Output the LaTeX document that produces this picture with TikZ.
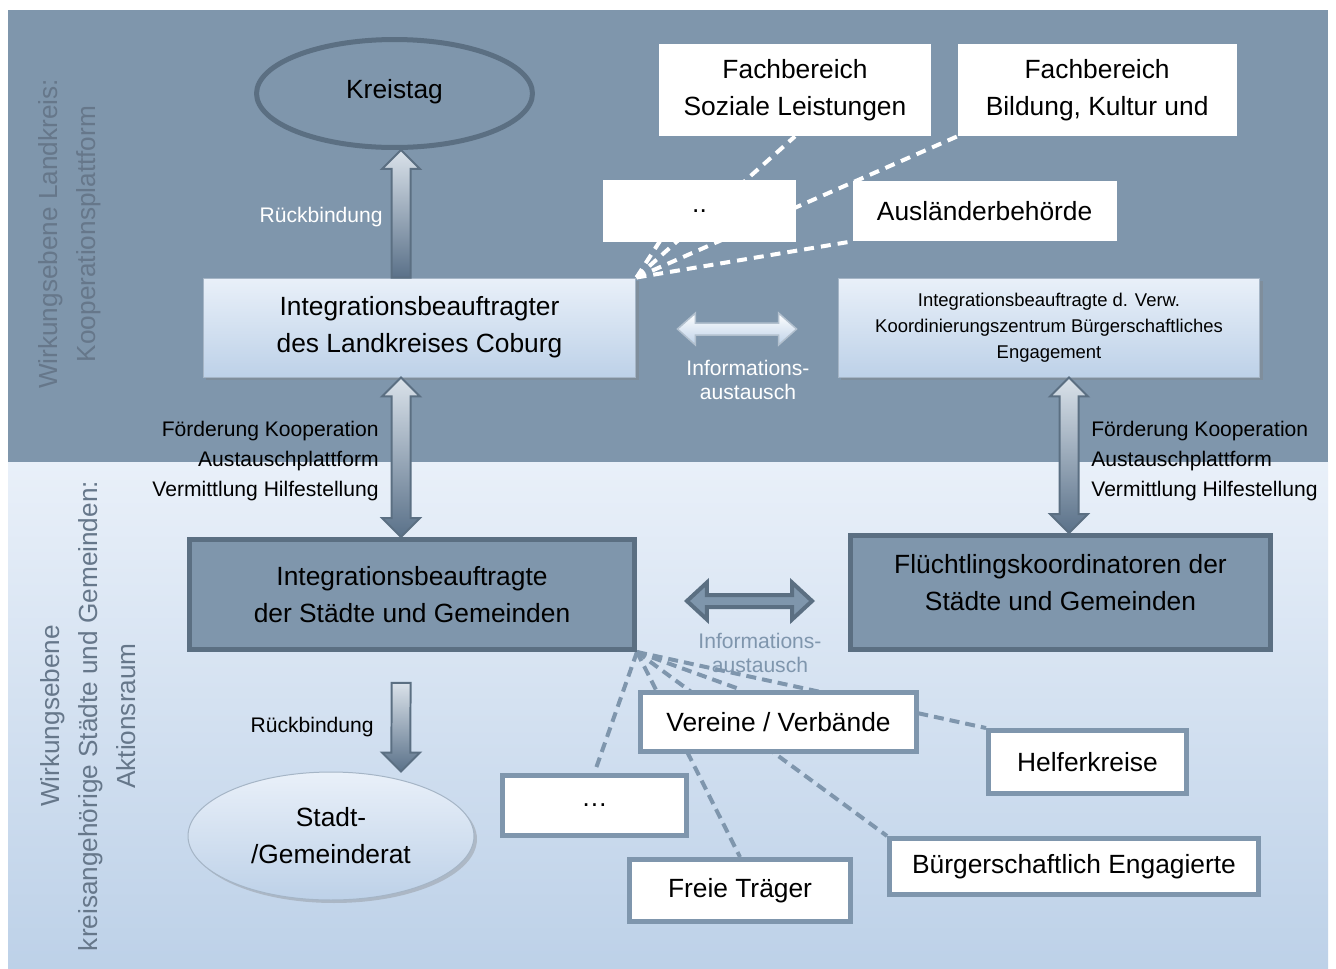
\documentclass[tikz,border=0pt]{standalone}
\usepackage{fontspec}
\setmainfont{Liberation Sans}
\usetikzlibrary{positioning,calc,shapes.geometric,shadows}

\definecolor{bandblue}{HTML}{7F96AC}
\definecolor{darkline}{HTML}{5B6F82}
\definecolor{paleblue}{HTML}{E9F0F9}
\definecolor{softblue}{HTML}{BDD1E8}
\definecolor{sidegray}{HTML}{66778A}
\definecolor{boxline}{HTML}{7F96AD}
\definecolor{arrlight}{HTML}{DAE2EA}
\definecolor{arrdark}{HTML}{5A7189}

\pgfdeclarelayer{bands}
\pgfdeclarelayer{links}
\pgfsetlayers{bands,links,main}

\tikzset{
  bigtext/.style={font=\fontsize{15}{21}\selectfont, align=center},
  lbl/.style={font=\fontsize{12}{17}\selectfont, inner sep=0pt},
  infolbl/.style={font=\fontsize{12}{13.7}\selectfont, align=center, inner sep=0pt},
  sidelbl/.style={font=\fontsize{14.9}{21.6}\selectfont, text=sidegray, align=center, rotate=90},
  topbox/.style={bigtext, rectangle, fill=white, inner sep=0pt},
  lightbox/.style={rectangle, draw=boxline!70, line width=0.02cm, top color=paleblue, bottom color=softblue,
    drop shadow={opacity=0.35, shadow xshift=0.06cm, shadow yshift=-0.06cm}},
  darkbox/.style={bigtext, rectangle, fill=bandblue, draw=darkline, line width=0.1cm},
  whitebox/.style={bigtext, rectangle, fill=white, draw=boxline, line width=0.1cm,
    drop shadow={opacity=0.25, shadow xshift=0.05cm, shadow yshift=-0.05cm}},
  toplink/.style={white, line width=0.08cm, dash pattern=on 0.2cm off 0.14cm},
  botlink/.style={boxline, line width=0.08cm, dash pattern=on 0.2cm off 0.12cm},
  % block arrows: shaft half width, head half width, head length
  sarrow/.style n args={3}{to path={
    let \p1=(\tikztostart), \p2=(\tikztotarget), \n1={atan2(\y2-\y1,\x2-\x1)} in
    ($(\p1)+(\n1+90:#1)$) -- ($(\p2)+(\n1+180:#3)+(\n1+90:#1)$) -- ($(\p2)+(\n1+180:#3)+(\n1+90:#2)$)
    -- (\p2) -- ($(\p2)+(\n1+180:#3)+(\n1-90:#2)$) -- ($(\p2)+(\n1+180:#3)+(\n1-90:#1)$)
    -- ($(\p1)+(\n1-90:#1)$) -- cycle}},
  darrow/.style n args={3}{to path={
    let \p1=(\tikztostart), \p2=(\tikztotarget), \n1={atan2(\y2-\y1,\x2-\x1)} in
    (\p1) -- ($(\p1)+(\n1:#3)+(\n1+90:#2)$) -- ($(\p1)+(\n1:#3)+(\n1+90:#1)$)
    -- ($(\p2)+(\n1+180:#3)+(\n1+90:#1)$) -- ($(\p2)+(\n1+180:#3)+(\n1+90:#2)$)
    -- (\p2) -- ($(\p2)+(\n1+180:#3)+(\n1-90:#2)$) -- ($(\p2)+(\n1+180:#3)+(\n1-90:#1)$)
    -- ($(\p1)+(\n1:#3)+(\n1-90:#1)$) -- ($(\p1)+(\n1:#3)+(\n1-90:#2)$) -- cycle}},
}

\begin{document}
\begin{tikzpicture}[x=0.02cm, y=-0.02cm]

  \useasboundingbox (0,0) rectangle (1336,968);

  % Bands
  \begin{pgfonlayer}{bands}
    \fill[white] (0,0) rectangle (1336,968);
    \fill[bandblue] (8,10) rectangle (1328,462);
    \shade[top color=paleblue, bottom color=softblue] (8,462) rectangle (1328,968);
  \end{pgfonlayer}

  \node[sidelbl] (side1) at (70,234) {Wirkungsebene Landkreis:\\Kooperationsplattform};
  \node[sidelbl] (side2) at (88,716) {Wirkungsebene\\kreisangehörige Städte und Gemeinden:\\Aktionsraum};

  % Landkreis level
  \node[ellipse, bigtext, draw=darkline, line width=0.1cm, fill=bandblue, text depth=0.19cm,
        minimum width=5.52cm, minimum height=2.16cm] (kt) at (394.5,93.5) {Kreistag};
  \node[topbox, minimum width=5.44cm, minimum height=1.84cm] (fb1) at (795,90) {Fachbereich\\Soziale Leistungen};
  \node[topbox, minimum width=5.58cm, minimum height=1.84cm, right=0.52cm of fb1] (fb2) {Fachbereich\\Bildung, Kultur und};
  \node[topbox, minimum width=3.86cm, minimum height=1.24cm] (dots1) at (699.5,211) {..};
  \node[topbox, minimum width=5.28cm, minimum height=1.2cm, right=1.12cm of dots1] (ab) {Ausländerbehörde};
  \node[lightbox, bigtext, minimum width=8.66cm, minimum height=1.98cm] (lk) at (419.5,327.5)
    {Integrationsbeauftragter\\des Landkreises Coburg};
  \node[lightbox, font=\fontsize{10.5}{14.8}\selectfont, align=center, minimum width=8.44cm,
        minimum height=1.98cm] (iv) at (1049,327.5)
    {Integrationsbeauftragte d. Verw.\\Koordinierungszentrum Bürgerschaftliches\\Engagement};

  % Gemeinde level
  \node[darkbox, minimum width=8.9cm, minimum height=2.2cm] (ls) at (412,594.5)
    {Integrationsbeauftragte\\der Städte und Gemeinden};
  \node[darkbox, minimum width=8.4cm, minimum height=2.28cm, text depth=0.4cm] (fk) at (1060.5,592.5)
    {Flüchtlingskoordinatoren der\\Städte und Gemeinden};
  \node[lightbox, ellipse, bigtext, minimum width=5.72cm, minimum height=2.56cm] (sg) at (331,836) {Stadt-\\/Gemeinderat};
  \node[whitebox, minimum width=3.68cm, minimum height=1.2cm] (dots2) at (594.5,805) {…};
  \node[whitebox, minimum width=5.52cm, minimum height=1.18cm] (vv) at (778.5,722) {Vereine / Verbände};
  \node[whitebox, minimum width=3.96cm, minimum height=1.26cm] (hk) at (1087.5,762) {Helferkreise};
  \node[whitebox, minimum width=4.42cm, minimum height=1.24cm] (ft) at (740,890.5) {Freie Träger};
  \node[whitebox, minimum width=7.38cm, minimum height=1.12cm] (be) at (1074,866.5) {Bürgerschaftlich Engagierte};

  % Dashed links
  \begin{pgfonlayer}{links}
    \draw[toplink] (lk.north east) -- (dots1.north);
    \draw[toplink] (lk.north east) -- (fb1.south);
    \draw[toplink] (lk.north east) -- (fb2.south west);
    \draw[toplink] (lk.north east) -- (ab.south west);
    \draw[botlink] (ls.south east) -- (dots2.north);
    \draw[botlink] (ls.south east) -- (ft.north);
    \draw[botlink] (ls.south east) -- ($(vv.north west)!0.37!(vv.north east)$);
    \draw[botlink] (ls.south east) -- (be.north west);
    \draw[botlink] (ls.south east) -- (hk.north west);
  \end{pgfonlayer}

  % Block arrows
  \coordinate (r1s) at ([xshift=-0.37cm]lk.north);
  \coordinate (r1e) at ([xshift=0.13cm]kt.south);
  \shadedraw[sarrow={0.19cm}{0.38cm}{0.38cm}, top color=arrlight, bottom color=arrdark,
             draw=darkline, line width=0.04cm] (r1s) to (r1e);

  \coordinate (d1s) at ([xshift=-0.37cm]lk.south);
  \coordinate (d1e) at ([xshift=-0.22cm]ls.north);
  \shadedraw[darrow={0.19cm}{0.38cm}{0.38cm}, top color=arrlight, bottom color=arrdark,
             draw=darkline, line width=0.04cm] (d1s) to (d1e);

  \coordinate (d2s) at ([xshift=0.4cm]iv.south);
  \coordinate (d2e) at ([xshift=0.17cm]fk.north);
  \shadedraw[darrow={0.19cm}{0.38cm}{0.38cm}, top color=arrlight, bottom color=arrdark,
             draw=darkline, line width=0.04cm] (d2s) to (d2e);

  \coordinate (r2s) at ([xshift=-0.22cm, yshift=-0.62cm]ls.south);
  \coordinate (r2e) at ([xshift=1.4cm]sg.north);
  \shadedraw[sarrow={0.19cm}{0.38cm}{0.38cm}, top color=arrlight, bottom color=arrdark,
             draw=darkline, line width=0.04cm] (r2s) to (r2e);

  \coordinate (h1s) at ([xshift=0.82cm, yshift=-0.03cm]lk.east);
  \coordinate (h1e) at ([xshift=-0.82cm, yshift=-0.03cm]iv.west);
  \shadedraw[darrow={0.12cm}{0.32cm}{0.36cm}, top color=white, bottom color=softblue,
             draw=boxline!60, line width=0.03cm] (h1s) to (h1e);

  \coordinate (h2s) at ([xshift=1.0cm, yshift=-0.13cm]ls.east);
  \coordinate (h2e) at ([xshift=-0.72cm, yshift=-0.17cm]fk.west);
  \draw[darrow={0.12cm}{0.37cm}{0.4cm}, fill=bandblue, draw=darkline, line width=0.08cm] (h2s) to (h2e);

  % Labels
  \node[lbl, text=white, anchor=east] (rb1) at (383,217) {Rückbindung};
  \node[lbl, align=right, anchor=east] (fk1) at (379,461)
    {Förderung Kooperation\\Austauschplattform\\Vermittlung Hilfestellung};
  \node[lbl, align=left, anchor=west] (fk2) at (1091,461)
    {Förderung Kooperation\\Austauschplattform\\Vermittlung Hilfestellung};
  \node[infolbl, text=white] (ia1) at (748,380) {Informations-\\austausch};
  \node[infolbl, text=boxline] (ia2) at (760,653) {Informations-\\austausch};
  \node[lbl, anchor=east] (rb2) at (374,727) {Rückbindung};

\end{tikzpicture}
\end{document}
